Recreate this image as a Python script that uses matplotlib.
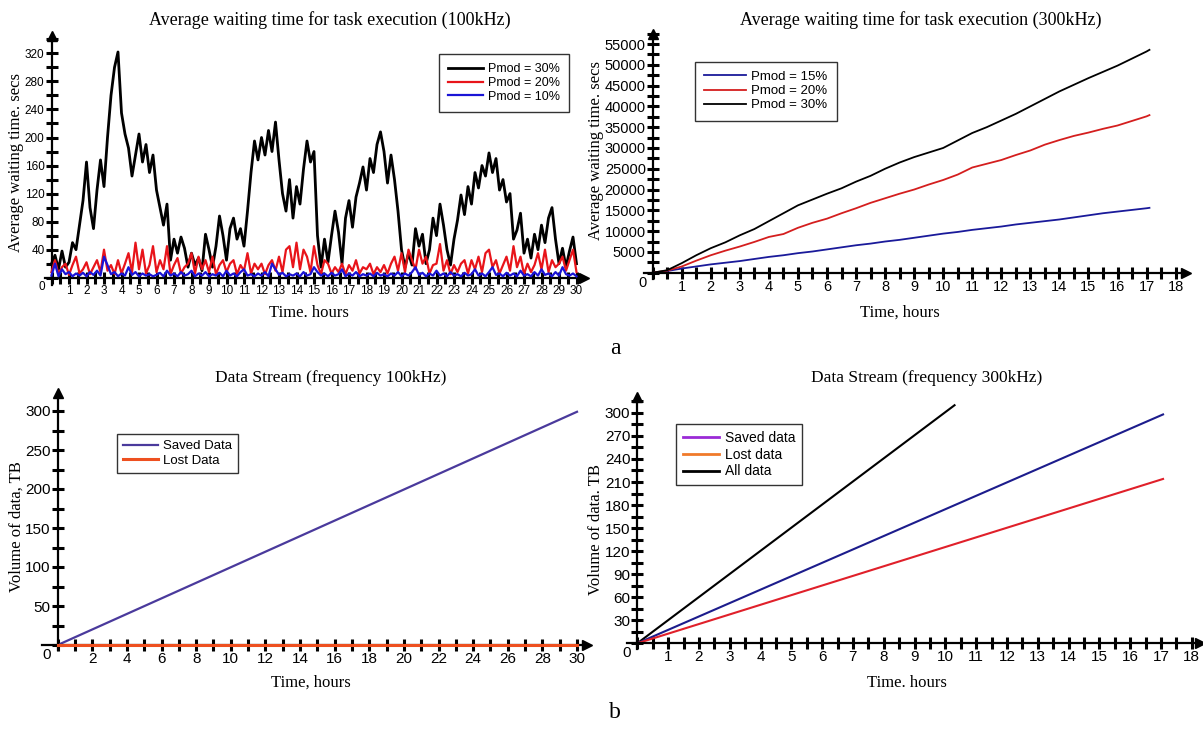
import matplotlib
matplotlib.use("Agg")
import matplotlib.pyplot as plt
import numpy as np
from matplotlib.lines import Line2D
from matplotlib.ticker import MultipleLocator, FuncFormatter

SERIF = ["Liberation Serif", "DejaVu Serif"]
SANS = ["Liberation Sans", "DejaVu Sans"]
plt.rcParams["font.family"] = SANS

W, H = 1203, 729

# ---- (a) left: waiting time at 100kHz, sampled every 0.2 h ----
wait100_p30 = [
    20, 32, 12, 38, 15, 22, 50, 40, 75, 110,
    165, 100, 70, 125, 168, 130, 200, 260, 300, 322,
    235, 205, 185, 145, 175, 205, 165, 190, 150, 175,
    125, 100, 75, 105, 25, 55, 35, 58, 42, 15,
    35, 18, 28, 10, 62, 40, 15, 45, 88, 60,
    25, 70, 85, 55, 70, 45, 95, 150, 195, 168,
    200, 175, 210, 180, 222, 168, 120, 95, 140, 85,
    130, 105, 155, 195, 165, 180, 60, 15, 55, 22,
    60, 95, 65, 20, 85, 110, 72, 115, 135, 158,
    125, 170, 150, 190, 208, 180, 135, 175, 140, 95,
    40, 15, 35, 18, 70, 45, 62, 20, 40, 85,
    60, 105, 75, 40, 18, 55, 82, 118, 90, 130,
    105, 150, 128, 160, 145, 178, 150, 170, 125, 140,
    108, 120, 55, 68, 92, 35, 55, 28, 62, 40,
    75, 50, 85, 100, 55, 20, 42, 15, 38, 58,
    20,
]
wait100_p20 = [
    8, 25, 5, 15, 20, 4, 18, 30, 6, 12,
    22, 5, 15, 25, 8, 40, 10, 18, 5, 25,
    6, 20, 35, 8, 50, 12, 40, 6, 18, 45,
    8, 25, 12, 45, 5, 18, 28, 6, 15, 20,
    35, 6, 30, 12, 25, 8, 30, 5, 18, 25,
    8, 20, 25, 5, 18, 10, 35, 6, 20, 12,
    20, 5, 18, 25, 10, 30, 8, 40, 45, 15,
    50, 12, 40, 30, 8, 45, 18, 5, 25, 20,
    6, 15, 8, 20, 5, 18, 10, 25, 6, 15,
    12, 20, 5, 15, 8, 18, 6, 20, 30, 10,
    35, 8, 40, 25, 12, 40, 20, 30, 6, 18,
    20, 48, 10, 25, 5, 18, 8, 20, 25, 6,
    25, 12, 30, 8, 35, 40, 15, 25, 6, 18,
    30, 10, 45, 15, 30, 5, 20, 8, 18, 35,
    12, 40, 8, 25, 15, 20, 30, 10, 25, 40,
    8,
]
wait100_p10 = [
    3, 20, 2, 12, 5, 8, 2, 6, 3, 7,
    2, 8, 4, 10, 3, 30, 18, 5, 8, 2,
    6, 3, 15, 4, 8, 2, 6, 3, 5, 2,
    4, 7, 2, 10, 3, 6, 2, 8, 3, 5,
    10, 2, 6, 3, 8, 2, 5, 3, 7, 2,
    10, 3, 6, 2, 8, 12, 3, 5, 2, 6,
    3, 8, 2, 20, 12, 4, 7, 2, 5, 3,
    6, 2, 8, 3, 5, 15, 8, 3, 6, 2,
    7, 3, 5, 12, 2, 6, 3, 8, 2, 5,
    3, 6, 2, 7, 3, 5, 2, 6, 3, 8,
    2, 6, 3, 8, 15, 4, 7, 2, 6, 3,
    10, 3, 6, 2, 8, 3, 5, 2, 7, 3,
    5, 12, 3, 6, 2, 8, 15, 4, 6, 2,
    7, 3, 6, 2, 10, 3, 5, 2, 8, 3,
    12, 4, 6, 2, 8, 3, 15, 5, 3, 6,
    2,
]

# ---- (a) right: waiting time at 300kHz ----
hours300 = [0, 0.5, 1, 1.5, 2, 2.5, 3, 3.5, 4, 4.5, 5, 5.5, 6, 6.5, 7, 7.5, 8, 8.5,
            9, 9.5, 10, 10.5, 11, 11.5, 12, 12.5, 13, 13.5, 14, 14.5, 15, 15.5,
            16, 16.5, 17, 17.1]
wait300_p15 = [0, 400, 1000, 1500, 2000, 2400, 2800, 3300, 3800, 4200, 4700, 5100,
               5600, 6100, 6600, 7000, 7500, 7900, 8400, 8900, 9400, 9800, 10300,
               10700, 11100, 11600, 12000, 12400, 12800, 13300, 13800, 14300,
               14700, 15100, 15500, 15600]
wait300_p20 = [0, 500, 1500, 2900, 4200, 5300, 6300, 7400, 8600, 9300, 10800, 12000,
               13000, 14300, 15500, 16800, 17900, 19000, 20000, 21200, 22300, 23600,
               25300, 26200, 27100, 28300, 29400, 30800, 31900, 32900, 33700,
               34600, 35400, 36500, 37600, 37900]
wait300_p30 = [0, 600, 2300, 4200, 5900, 7300, 9000, 10500, 12400, 14300, 16200,
               17600, 19000, 20300, 21900, 23300, 25000, 26500, 27800, 28900, 30000,
               31800, 33600, 35000, 36600, 38200, 40000, 41800, 43600, 45200, 46800,
               48300, 49800, 51500, 53200, 53600]

# ---- (b) data streams ----
stream100_hours = [0, 30]
stream100_saved = [0, 299]
stream100_lost = [0, 0]

stream300_hours = [0, 17.07]
stream300_saved = [0, 298]
stream300_lost = [0, 214]
stream300_all_hours = [0, 10.3]
stream300_all = [0, 310]


def axes_px(fig, x_origin, y_origin, sx, sy, xlim, ylim):
    """Place axes so that data (0,0) lands on the given pixel."""
    left = x_origin + xlim[0] * sx
    right = x_origin + xlim[1] * sx
    bottom = y_origin - ylim[0] * sy
    top = y_origin - ylim[1] * sy
    ax = fig.add_axes([left / W, 1 - bottom / H, (right - left) / W, (bottom - top) / H])
    ax.set_xlim(*xlim)
    ax.set_ylim(*ylim)
    return ax


def fig_text(fig, x, y, s, **kw):
    fig.text(x / W, 1 - y / H, s, ha="center", va="center", **kw)


def style_axes(ax, xmajor, xminor, ymajor, yminor, fs):
    for s in ("top", "right"):
        ax.spines[s].set_visible(False)
    for s in ("left", "bottom"):
        ax.spines[s].set_position(("data", 0))
        ax.spines[s].set_linewidth(1.6)
    ax.set_facecolor("none")
    ax.xaxis.set_major_locator(MultipleLocator(xmajor))
    ax.xaxis.set_minor_locator(MultipleLocator(xminor))
    ax.yaxis.set_major_locator(MultipleLocator(ymajor))
    ax.yaxis.set_minor_locator(MultipleLocator(yminor))
    fmt = FuncFormatter(lambda v, p: "" if abs(v) < 1e-9 or v < 0 else f"{v:g}")
    ax.xaxis.set_major_formatter(fmt)
    ax.yaxis.set_major_formatter(fmt)
    ax.tick_params(which="both", direction="inout", length=8, width=2.2, color="black",
                   labelsize=fs, pad=1)
    x0, x1 = ax.get_xlim()
    y0, y1 = ax.get_ylim()
    ax.plot([x1], [0], marker=">", color="black", markersize=7, clip_on=False)
    ax.plot([0], [y1], marker="^", color="black", markersize=7, clip_on=False)
    ax.text(-0.012 * (x1 - x0), -0.012 * (y1 - y0), "0", ha="right", va="top", fontsize=fs)


legend_kw = dict(bbox_transform=None, fancybox=False, edgecolor="#333333",
                 framealpha=1, loc="upper left")

fig = plt.figure(figsize=(W / 100, H / 100), dpi=100)
legend_kw["bbox_transform"] = fig.transFigure

# ---------- top-left ----------
ax = axes_px(fig, 51.5, 277.7, 17.5, 0.701, (-0.4, 30.4), (-10, 345))
t100 = np.linspace(0, 30, len(wait100_p30))
ax.plot(t100, wait100_p20, color="#e8141a", lw=1.6, label="Pmod = 20%", zorder=3)
ax.plot(t100, wait100_p10, color="#1a14d6", lw=1.6, label="Pmod = 10%", zorder=4)
ax.plot(t100, wait100_p30, color="black", lw=2.0, label="Pmod = 30%", zorder=2)
style_axes(ax, 1, 0.5, 40, 20, 8.5)
h, l = ax.get_legend_handles_labels()
order = [2, 0, 1]
ax.legend([h[i] for i in order], [l[i] for i in order],
          bbox_to_anchor=(433 / W, 1 - 48 / H), fontsize=9, handlelength=2.8,
          borderpad=0.7, labelspacing=0.15, handletextpad=0.4, **legend_kw)
fig_text(fig, 330, 20, "Average waiting time for task execution (100kHz)",
         family=SERIF, fontsize=13)
fig_text(fig, 309, 313, "Time. hours", family=SERIF, fontsize=12)
fig_text(fig, 16, 163, "Average waiting time. secs", family=SERIF, fontsize=12, rotation=90)

# ---------- top-right ----------
ax = axes_px(fig, 652.7, 272.7, 29.05, 0.004158, (-0.3, 18.35), (-1500, 57500))
ax.plot(hours300, wait300_p15, color="#1a1a9a", lw=1.3, label="Pmod = 15%")
ax.plot(hours300, wait300_p20, color="#d41e1e", lw=1.3, label="Pmod = 20%")
ax.plot(hours300, wait300_p30, color="black", lw=1.3, label="Pmod = 30%")
style_axes(ax, 1, 0.5, 5000, 2500, 10.5)
ax.legend(bbox_to_anchor=(688 / W, 1 - 55 / H), fontsize=9.5, handlelength=3.2,
          borderpad=0.7, labelspacing=0.15, handletextpad=0.4, **legend_kw)
fig_text(fig, 921, 20, "Average waiting time for task execution (300kHz)",
         family=SERIF, fontsize=13)
fig_text(fig, 900, 313, "Time, hours", family=SERIF, fontsize=12)
fig_text(fig, 596, 150, "Average waiting time. secs", family=SERIF, fontsize=12, rotation=90)
fig_text(fig, 615, 348, "a", family=SERIF, fontsize=17)

# ---------- bottom-left ----------
ax = axes_px(fig, 57.7, 645, 17.31, 0.78, (-0.9, 30.55), (-7, 323))
ax.plot(stream100_hours, stream100_saved, color="#4a3a9c", lw=1.6, label="Saved Data")
ax.plot(stream100_hours, stream100_lost, color="#ee5020", lw=2.2, label="Lost Data",
        clip_on=False, zorder=5)
style_axes(ax, 2, 1, 50, 25, 11)
ax.legend(bbox_to_anchor=(110 / W, 1 - 427 / H), fontsize=9.5, handlelength=2.6,
          borderpad=0.5, labelspacing=0.15, handletextpad=0.4, **legend_kw)
fig_text(fig, 331, 378, "Data Stream (frequency 100kHz)", family=SERIF, fontsize=12.5)
fig_text(fig, 311, 683, "Time, hours", family=SERIF, fontsize=12)
fig_text(fig, 17, 527, "Volume of data, TB", family=SERIF, fontsize=12, rotation=90)

# ---------- bottom-right ----------
ax = axes_px(fig, 637.3, 643.3, 30.8, 0.768, (-0.35, 18.27), (-8, 321))
ax.plot(stream300_all_hours, stream300_all, color="black", lw=1.5)
ax.plot(stream300_hours, stream300_saved, color="#1c1c8c", lw=1.5)
ax.plot(stream300_hours, stream300_lost, color="#e0202a", lw=1.5)
style_axes(ax, 1, 0.5, 30, 15, 11)
legend_handles = [Line2D([], [], color="#9a2ad6", lw=2),
                  Line2D([], [], color="#f07a2a", lw=2),
                  Line2D([], [], color="black", lw=2)]
ax.legend(legend_handles, ["Saved data", "Lost data", "All data"],
          bbox_to_anchor=(669 / W, 1 - 417 / H), fontsize=10, handlelength=2.6,
          borderpad=0.5, labelspacing=0.2, handletextpad=0.4, **legend_kw)
fig_text(fig, 927, 378, "Data Stream (frequency 300kHz)", family=SERIF, fontsize=12.5)
fig_text(fig, 907, 683, "Time. hours", family=SERIF, fontsize=12)
fig_text(fig, 596, 530, "Volume of data. TB", family=SERIF, fontsize=12, rotation=90)
fig_text(fig, 615, 713, "b", family=SERIF, fontsize=17)

fig.savefig("out.png", dpi=100, facecolor="white")
